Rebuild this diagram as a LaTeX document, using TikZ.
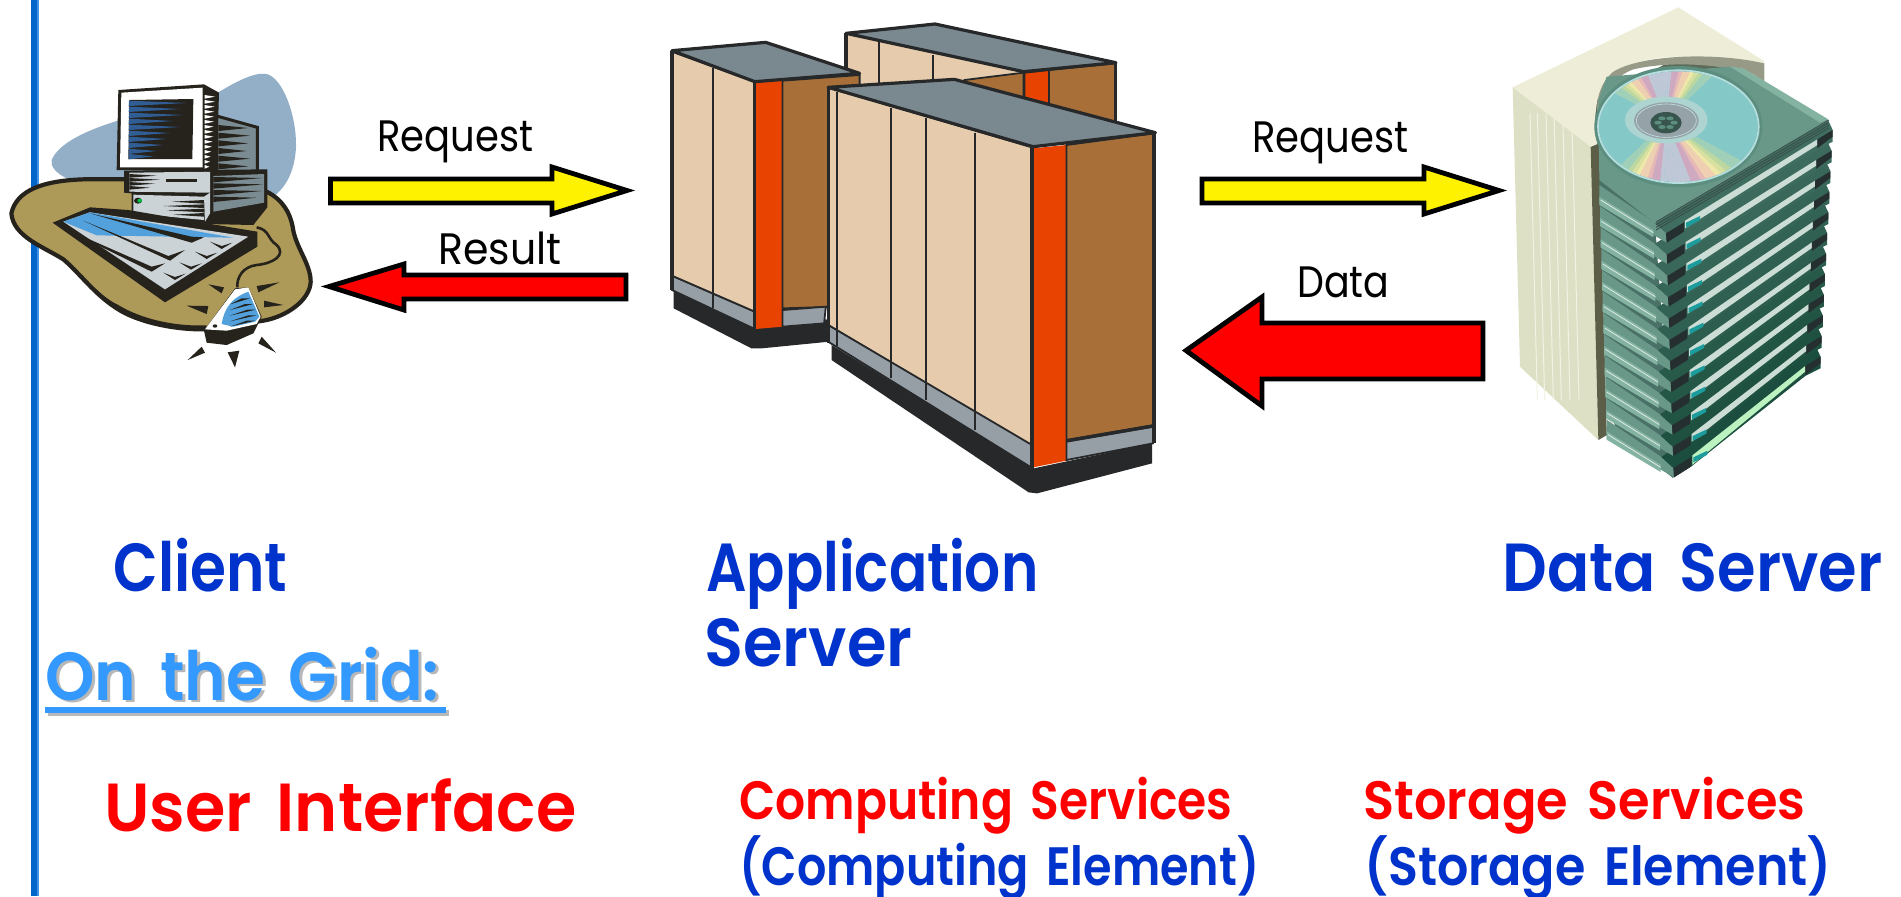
\documentclass[tikz,border=0pt]{standalone}
\usepackage{fontspec}
\usepackage{graphicx}
\newfontfamily\comicf{Poppins}
\newfontfamily\comicb{Poppins SemiBold}
\definecolor{bluetxt}{HTML}{0033CC}
\definecolor{redtxt}{HTML}{FF0000}
\definecolor{skytxt}{HTML}{3399FF}
\definecolor{shadetxt}{HTML}{B8B8B8}
\definecolor{railA}{HTML}{0066CC}
\definecolor{railB}{HTML}{3F94E6}
\definecolor{ink}{HTML}{26221C}
\definecolor{blobblue}{HTML}{93AFC7}
\definecolor{blobtan}{HTML}{AE9A58}
\definecolor{keygrey}{HTML}{CBD3D7}
\definecolor{panelgrey}{HTML}{7A8B92}
\definecolor{keyblue}{HTML}{52A1DC}
\definecolor{screenblue}{HTML}{2F5D94}
\definecolor{svink}{HTML}{26282A}
\definecolor{svtan}{HTML}{E6CCAC}
\definecolor{svtop}{HTML}{7A8890}
\definecolor{svorange}{HTML}{E84300}
\definecolor{svbrown}{HTML}{A87038}
\definecolor{svband}{HTML}{969EA6}
\definecolor{casetop}{HTML}{EEEDD8}
\definecolor{caseleft}{HTML}{DDE0C4}
\definecolor{caseshade}{HTML}{5D5E48}
\definecolor{caseline}{HTML}{F3F3E4}
\definecolor{caseband}{HTML}{989A88}
\definecolor{cdA}{HTML}{3F6E60}
\definecolor{cdB}{HTML}{1B4E3E}
\definecolor{cdface}{HTML}{6A9888}
\definecolor{cdrim}{HTML}{5C8E80}
\definecolor{cdlight}{HTML}{85B3A2}
\definecolor{cddark}{HTML}{262F30}
\definecolor{cdteal}{HTML}{1C9C9C}
\definecolor{cdstrip}{HTML}{CCDDD5}
\definecolor{cdc0}{HTML}{84C8C8}
\definecolor{cdc1}{HTML}{84C8C8}
\definecolor{cdc2}{HTML}{A0D0B8}
\definecolor{cdc3}{HTML}{BCD8A0}
\definecolor{cdc4}{HTML}{D8E0A0}
\definecolor{cdc5}{HTML}{F0E8A8}
\definecolor{cdc6}{HTML}{F0D0B0}
\definecolor{cdc7}{HTML}{E8B8B8}
\definecolor{cdc8}{HTML}{D0A8C0}
\definecolor{cdc9}{HTML}{C0C8D8}
\newcommand\fitw[2]{\resizebox{#1pt}{\height}{#2}}
\newcommand\wgap{\hspace*{.14em} }
\tikzset{
  txt/.style={anchor=base west,inner sep=0pt,font=\comicf},
  bigtxt/.style={txt,font=\comicb\fontsize{34}{34}\selectfont},
  smalltxt/.style={txt,font=\comicb\fontsize{27}{27}\selectfont},
  labtxt/.style={txt,text=black,font=\comicf\fontsize{22}{22}\selectfont},
  blockarrow/.style={draw=black,line width=2.4pt,line join=miter,miter limit=10},
  svline/.style={draw=svink,line width=0.9pt},
  svedge/.style={draw=svink,line width=1.6pt,line join=round},
  LL/.style={shift={(\lx,\ly)}},
  RR/.style={shift={(\rx,\ry)}},
}
\begin{document}
\begin{tikzpicture}[x=.5pt,y=-.5pt]
\useasboundingbox (0,0) rectangle (1901,896);
\fill[white] (0,0) rectangle (1901,896);
% rail
\fill[railA] (31,0) rectangle (36.5,896);
\fill[railB] (36.5,0) rectangle (38.5,896);

% ---------- client ----------
\begin{scope}[shift={(0,50)},x=.16667pt,y=-.16667pt]
\fill[blobblue] (155,330) .. controls (175,280) and (260,240) .. (360,210) -- (650,130)
  .. controls (700,100) and (760,65) .. (800,72) .. controls (850,85) and (890,200) .. (888,290)
  .. controls (885,360) and (860,410) .. (820,440) -- (400,400) -- (200,385)
  .. controls (170,370) and (150,350) .. (155,330) -- cycle;
\filldraw[fill=blobtan,draw=ink,line width=2.1pt,line join=round]
  (34,490) .. controls (50,420) and (130,392) .. (250,388) -- (380,388) -- (800,425)
  .. controls (850,450) and (870,490) .. (878,530) .. controls (885,590) and (932,640) .. (932,695)
  .. controls (930,750) and (860,800) .. (790,812) -- (620,838)
  .. controls (520,840) and (410,815) .. (350,775) .. controls (280,730) and (240,670) .. (190,628)
  .. controls (130,590) and (40,560) .. (34,490) -- cycle;
% lower thick edge of the tan blob
\fill[ink] (620,838) .. controls (520,840) and (410,815) .. (350,775) .. controls (280,730) and (240,670) .. (190,628)
  .. controls (235,655) and (290,735) .. (355,765) .. controls (420,805) and (520,830) .. (620,826) -- cycle;
% rear tower
\filldraw[fill=panelgrey,draw=ink,line width=1.5pt] (650,198) -- (772,232) -- (772,365) -- (650,365) -- cycle;
\foreach \y/\t in {225/745,248/750,271/745,294/740,317/750,340/745}
  \fill[ink] (655,\y) -- (\t,\y+9) -- (655,\y+18) -- cycle;
% base unit
\fill[ink] (372,362) -- (802,358) -- (802,472) -- (760,525) -- (620,522) -- (395,495) -- (395,430) -- (372,428) -- cycle;
\fill[keygrey] (388,368) -- (630,365) -- (630,428) -- (388,425) -- cycle;
\foreach \y/\t in {372/470,384/480,396/465,408/450}
  \fill[ink] (388,\y) -- (\t,\y+5) -- (388,\y+11) -- cycle;
\fill[ink] (498,387) -- (590,387) -- (590,395) -- (498,395) -- cycle;
\fill[keygrey] (400,434) -- (612,440) -- (612,510) -- (400,490) -- cycle;
\foreach \y/\t in {450/515,463/490,476/500,489/520}
  \fill[ink] (612,\y) -- (\t,\y+5) -- (612,\y+11) -- cycle;
\fill[ink] (414,452) circle[x radius=12,y radius=9];
\fill[green!50!teal] (419,452) circle[x radius=7,y radius=6];
\fill[keygrey] (612,440) -- (630,428) -- (630,490) -- (615,515) -- cycle;
\fill[panelgrey] (640,378) -- (792,372) -- (792,458) -- (640,485) -- cycle;
\foreach \y/\t in {381/785,400/790,420/785,440/770}
  \fill[ink] (640,\y) -- (\t,\y+3) -- (640,\y+16) -- cycle;
% monitor
\fill[ink] (355,120) -- (612,103) -- (657,128) -- (650,365) -- (350,360) -- cycle;
\fill[white] (364,128) -- (608,113) -- (608,352) -- (360,352) -- cycle;
\fill[ink] (388,150) -- (580,147) -- (577,327) -- (385,327) -- cycle;
\foreach \y/\t in {152/560,170/540,188/550,206/520,224/540,242/510,260/500,278/490,296/470,312/460}
  \fill[screenblue] (387,\y) -- (\t,\y+7) -- (386,\y+16) -- cycle;
\foreach \y/\t in {135/645,150/645,165/644,180/643,195/642,210/642,225/641,240/640,255/640,270/638,285/636,300/634,315/632,330/630,345/628}
  \fill[white] (614,\y) -- (\t,\y+5) -- (614,\y+11) -- cycle;
% keyboard
\fill[ink] (158,518) -- (270,472) -- (385,480) -- (620,520) -- (772,545) -- (772,590) -- (495,757) -- cycle;
\fill[keygrey] (190,515) -- (270,487) -- (745,560) -- (495,718) -- cycle;
\fill[keyblue] (190,515) -- (270,487) -- (700,563) -- (290,556) -- cycle;
\fill[ink] (270,490) -- (575,560) -- (612,562) -- (575,578) -- cycle;
\fill[ink] (250,512) -- (505,618) -- (555,600) -- (510,632) -- cycle;
\fill[ink] (168,524) -- (455,650) -- (495,640) -- (455,665) -- cycle;
\foreach \x/\y in {630/575,585/605,538/637,490/668}
  \fill[ink] (\x,\y) -- (\x+35,\y+13) -- (\x+67,\y+3) -- (\x+35,\y+22) -- cycle;
% cable
\draw[ink,line width=1.3pt] (770,532) .. controls (810,540) and (800,565) .. (830,585)
  .. controls (860,615) and (820,640) .. (770,645) .. controls (730,650) and (710,680) .. (712,712);
% mouse
\fill[ink] (612,842) -- (620,878) -- (680,885) -- (760,850) -- (785,800) -- (745,712) -- (705,715) -- cycle;
\fill[white] (615,838) -- (705,718) -- (745,712) -- (782,800) -- (770,822) -- (680,842) -- cycle;
\fill[keyblue] (665,822) .. controls (672,780) and (690,745) .. (745,725) -- (778,800) -- (765,815) -- (700,830) -- cycle;
\foreach \y/\s in {745/725,762/735,779/742,796/745,812/740}
  \fill[ink] (\s,\y) -- (\s+25,\y) -- (690,\y+18) -- cycle;
\fill[ink] (645,828) circle[x radius=7,y radius=5];
% rays
\fill[ink] (625,703) -- (672,712) -- (665,730) -- cycle;
\fill[ink] (770,708) -- (838,697) -- (775,727) -- cycle;
\fill[ink] (560,767) -- (625,768) -- (620,792) -- cycle;
\fill[ink] (792,752) -- (850,765) -- (792,772) -- cycle;
\fill[ink] (563,930) -- (605,890) -- (615,908) -- cycle;
\fill[ink] (683,907) -- (718,902) -- (705,952) -- cycle;
\fill[ink] (775,880) -- (785,860) -- (828,908) -- cycle;
\end{scope}

% ---------- application server ----------
\begin{scope}[shift={(650,10)},x=.16903pt,y=-.16667pt]
% rear cabinet
\fill[svtan] (580,70) -- (1105,185) -- (1105,320) -- (580,320) -- cycle;
\draw[svline] (678,95) -- (678,300) (837,135) -- (837,300);
\draw[svedge] (580,70) -- (580,300);
\filldraw[fill=svbrown,svline] (1180,180) -- (1378,160) -- (1378,340) -- (1180,340) -- cycle;
\filldraw[fill=svbrown,svline] (930,210) -- (1105,188) -- (1105,320) -- (930,320) -- cycle;
\filldraw[fill=svorange,svline] (1108,188) -- (1180,180) -- (1180,320) -- (1108,320) -- cycle;
\filldraw[fill=svtop,svedge] (580,70) -- (843,42) -- (1378,158) -- (1105,185) -- cycle;
\draw[svedge] (1378,158) -- (1378,340);
% left cabinet
\fill[svink] (70,840) -- (70,895) -- (300,1015) -- (330,1015) -- (530,995) -- (530,930) -- cycle;
\filldraw[fill=svband,svline] (65,797) -- (65,840) -- (310,957) -- (310,905) -- cycle;
\filldraw[fill=svtan,svline] (65,125) -- (310,215) -- (310,905) -- (65,797) -- cycle;
\draw[svline] (186,175) -- (186,895);
\filldraw[fill=svorange,draw=none] (310,215) -- (392,212) -- (392,950) -- (312,957) -- cycle;
\filldraw[fill=svbrown,svline] (392,212) -- (620,195) -- (620,888) -- (392,895) -- cycle;
\filldraw[fill=svband,svline] (392,900) -- (520,890) -- (515,940) -- (392,950) -- cycle;
\filldraw[fill=svtop,svedge] (65,122) -- (342,97) -- (620,190) -- (310,215) -- cycle;
\draw[svedge] (65,122) -- (65,840);
\draw[svedge] (310,215) -- (310,957);
% front cabinet
\fill[svink] (537,1005) -- (537,1050) -- (1120,1447) -- (1145,1450) -- (1485,1360) -- (1485,1300) -- (1135,1375) -- cycle;
\filldraw[fill=svtan,svline] (527,232) -- (1130,412) -- (1130,1310) -- (527,945) -- cycle;
\filldraw[fill=svband,svline] (527,945) -- (1130,1305) -- (1132,1375) -- (527,995) -- cycle;
\foreach \x/\a/\b in {553/245/1008,714/295/1105,817/325/1170,962/368/1260}
  \draw[svline] (\x,\a) -- (\x,\b);
\fill[svorange] (1132,415) -- (1232,405) -- (1232,1352) -- (1133,1372) -- cycle;
\filldraw[fill=svbrown,svline] (1232,405) -- (1490,370) -- (1490,1245) -- (1232,1290) -- cycle;
\filldraw[fill=svband,svline] (1232,1295) -- (1488,1250) -- (1488,1300) -- (1232,1350) -- cycle;
\draw[svedge] (1232,1292) -- (1488,1248);
\filldraw[fill=svtop,svedge] (527,232) -- (900,208) -- (1495,368) -- (1133,410) -- cycle;
\draw[svedge] (527,232) -- (527,1000);
\draw[svedge] (1130,412) -- (1130,1375);
\draw[svedge] (1491,368) -- (1491,1300);
\end{scope}

% ---------- data server ----------
\begin{scope}[shift={(1480,0)},x=.16667pt,y=-.16667pt]
% case
\fill[caseshade!70!cdrim] (600,170) -- (852,190) -- (852,400) -- (400,800) -- (340,440) -- (345,300) -- cycle;
\fill[caseleft] (98,262) -- (335,437) -- (355,1320) -- (120,1100) -- cycle;
\foreach \x in {150,172,198,222,248,275}
  \draw[caseline,line width=.5pt] (\x,340) -- (\x+22,1200);
\fill[caseshade] (332,440) -- (358,432) -- (380,1300) -- (415,1285) -- (355,1320) -- cycle;
\fill[casetop] (98,262) -- (595,22) -- (852,183) -- (852,245) -- (780,200) -- (600,170)
  .. controls (480,170) and (390,210) .. (360,270) .. controls (345,320) and (340,380) .. (352,432) -- (332,440) -- cycle;
\fill[caseband] (852,190) -- (852,245) -- (820,222) .. controls (700,188) and (560,185) .. (460,208)
  .. controls (400,230) and (362,285) .. (354,350) .. controls (345,300) and (360,250) .. (400,215)
  .. controls (480,165) and (700,155) .. (852,190) -- cycle;
% backing of the stack
\fill[cdrim!80!black] (358,540) -- (525,670) -- (580,1435) -- (415,1300) -- (380,1215) -- cycle;
% stack of cases, lowest first
\foreach \i in {11,10,...,0}{
  \pgfmathsetmacro\lx{2*\i}
  \pgfmathsetmacro\ly{64*\i}
  \pgfmathsetmacro\rx{-3.3*\i}
  \pgfmathsetmacro\ry{61.8*\i}
  \pgfmathtruncatemacro\pct{100-\i*9}
  \fill[cdface] ([LL]358,555) -- ([LL]522,667) -- ([LL]558,700) -- ([LL]560,728) -- ([LL]358,610) -- cycle;
  \fill[cdlight] ([LL]358,590) -- ([LL]520,690) -- ([LL]520,712) -- ([LL]358,615) -- cycle;
  \draw[white!80!cdlight,line width=.35pt] ([LL]362,600) -- ([LL]520,698);
  \fill[cdA!\pct!cdB] ([LL]522,667) -- ([RR]1045,362) -- ([RR]1058,390) -- ([RR]1058,425)
     -- ([RR]1012,448) -- ([LL]612,695) -- ([LL]560,728) -- ([LL]558,700) -- cycle;
  \ifnum\i=11
    \fill[cdstrip!70!green!60!white] ([LL]615,662) -- ([RR]1012,418) -- ([RR]1012,435) -- ([LL]615,690) -- cycle;
  \else
    \fill[cdstrip] ([LL]615,662) -- ([RR]1012,418) -- ([RR]1012,435) -- ([LL]615,685) -- cycle;
  \fi
  \fill[cdteal] ([LL]618,668) -- ([LL]660,648) -- ([LL]660,660) -- ([LL]618,683) -- cycle;
  \fill[cddark] ([LL]558,700) -- ([LL]612,667) -- ([LL]612,695) -- ([LL]560,728) -- cycle;
  \fill[cddark] ([RR]1012,418) -- ([RR]1058,390) -- ([RR]1058,410) -- ([RR]1012,445) -- cycle;
}
% top face of the stack
\fill[cdface] (358,540) -- (355,300) -- (380,230) -- (750,200) -- (1045,362) -- (525,670) -- cycle;
\fill[cdlight] (750,200) -- (790,205) -- (1045,358) -- (1020,368) -- cycle;
\foreach \d in {0,8,16,24}
  \draw[cddark!70!cdface,line width=.45pt] (528,668+\d-2) -- (1046,360+\d);
\fill[cdrim] (595,380) circle[x radius=252,y radius=182];
\begin{scope}
\clip (595,380) circle[x radius=238,y radius=166];
\fill[cdc0] (345,200) rectangle (845,560);
\foreach \a in {0,4,...,356}{
  \pgfmathtruncatemacro\idx{int(9.99*abs(sin(\a+10))^3)}
  \fill[cdc\idx] (559,362) -- ++(\a:340) -- ++(\a+94:24) -- cycle;
}
\end{scope}
\draw[cdc0!60!white,line width=.9pt] (595,380) circle[x radius=241,y radius=169];
\fill[cdc0!70!cdrim!60!white] (559,360) circle[x radius=124,y radius=70];
\fill[panelgrey!80!white] (559,362) circle[x radius=97,y radius=55];
\draw[cdc0!50!white,line width=.3pt] (559,362) circle[x radius=90,y radius=50];
\fill[cdrim!60!black] (558,368) circle[x radius=47,y radius=32];
\foreach \a in {0,60,...,300}
  \fill[cdrim] (558,368) ++(\a:24 and 15) circle[x radius=11,y radius=6];
\end{scope}

% ---------- block arrows ----------
\filldraw[fill=yellow,blockarrow] (330.5,179) -- (552,179) -- (552,167) -- (627,190.5) -- (552,214) -- (552,203) -- (330.5,203) -- cycle;
\filldraw[fill=redtxt,blockarrow] (626,275) -- (404,275) -- (404,264) -- (329,286.5) -- (404,310) -- (404,299) -- (626,299) -- cycle;
\filldraw[fill=yellow,blockarrow] (1202,179) -- (1424,179) -- (1424,167) -- (1499,190.5) -- (1424,214) -- (1424,203) -- (1202,203) -- cycle;
\filldraw[fill=redtxt,blockarrow] (1483,323) -- (1262,323) -- (1262,297) -- (1186,350.5) -- (1262,406) -- (1262,379) -- (1483,379) -- cycle;

% ---------- arrow labels ----------
\node[labtxt] (reqone) at (377,151) {\fitw{78}{Request}};
\node[labtxt] (resone) at (438,264) {\fitw{61.5}{Result}};
\node[labtxt] (reqtwo) at (1252,152) {\fitw{78}{Request}};
\node[labtxt] (dattwo) at (1297,297) {\fitw{46}{Data}};

% ---------- captions ----------
\node[bigtxt,text=bluetxt] (client) at (113,591) {\fitw{87}{Client}};
\node[bigtxt,text=bluetxt] (appa) at (706,591) {\fitw{166}{Application}};
\node[bigtxt,text=bluetxt] (appb) at (704,666) {\fitw{104}{Server}};
\node[bigtxt,text=bluetxt] (data) at (1502,591) {\fitw{190}{Data\wgap Server}};
\fill[shadetxt] (48,710) rectangle (449,716);
\node[bigtxt,text=shadetxt] (gridsh) at (48,702) {\fitw{197}{On\wgap the\wgap Grid:}};
\fill[skytxt] (45,707) rectangle (446,713);
\node[bigtxt,text=skytxt] (grid) at (45,700) {\fitw{197}{On\wgap the\wgap Grid:}};
\node[bigtxt,text=redtxt] (ui) at (104,831) {\fitw{236}{User\wgap Interface}};
\node[smalltxt,text=redtxt] (csa) at (739,819) {\fitw{246.5}{Computing\wgap Services}};
\node[smalltxt,text=bluetxt] (csb) at (739,885) {\fitw{260}{(Computing\wgap Element)}};
\node[smalltxt,text=redtxt] (ssa) at (1363,819) {\fitw{221}{Storage\wgap Services}};
\node[smalltxt,text=bluetxt] (ssb) at (1364,885) {\fitw{233.5}{(Storage\wgap Element)}};
\end{tikzpicture}
\end{document}
